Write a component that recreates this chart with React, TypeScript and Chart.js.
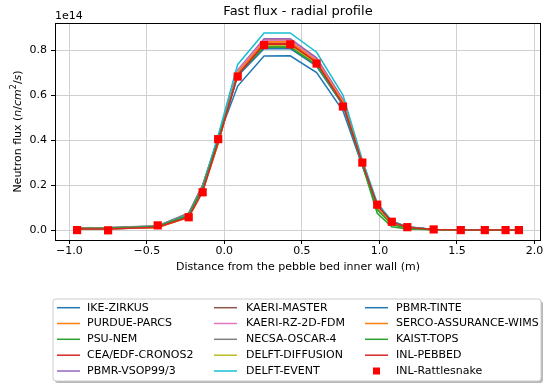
import React, { useEffect, useRef } from 'react';
import { Chart, registerables } from 'chart.js';

Chart.register(...registerables);

const FONT = '"DejaVu Sans", "Liberation Sans", sans-serif';

// Radial positions (m)
const xPositions = [-0.95, -0.75, -0.43, -0.23, -0.14, -0.04, 0.086, 0.256, 0.425, 0.595, 0.765, 0.89, 0.986, 1.08, 1.18, 1.35, 1.525, 1.68, 1.814, 1.9];

// Fast flux, units of 1e14 n/cm^2/s
const ikeZirkus = [0.004, 0.005, 0.013, 0.062, 0.19, 0.41, 0.64, 0.773, 0.774, 0.7, 0.53, 0.285, 0.11, 0.035, 0.012, 0.003, 0.001, 0, 0, 0];
const purdueParcs = [0.006, 0.006, 0.012, 0.058, 0.175, 0.385, 0.7, 0.838, 0.838, 0.752, 0.572, 0.3, 0.1, 0.03, 0.01, 0.002, 0, 0, 0, 0];
const psuNem = [0.007, 0.008, 0.015, 0.066, 0.185, 0.395, 0.69, 0.815, 0.815, 0.735, 0.56, 0.29, 0.075, 0.015, 0.005, 0.001, 0, 0, 0, 0];
const ceaCronos2 = [0.006, 0.007, 0.014, 0.063, 0.18, 0.39, 0.695, 0.83, 0.83, 0.748, 0.565, 0.295, 0.105, 0.033, 0.012, 0.002, 0, 0, 0, 0];
const pbmrVsop = [0.008, 0.009, 0.016, 0.07, 0.19, 0.4, 0.712, 0.85, 0.85, 0.765, 0.58, 0.3, 0.11, 0.036, 0.013, 0.003, 0.001, 0, 0, 0];
const kaeriMaster = [0.009, 0.01, 0.018, 0.074, 0.2, 0.41, 0.705, 0.845, 0.845, 0.76, 0.575, 0.298, 0.115, 0.038, 0.014, 0.003, 0.001, 0, 0, 0];
const kaeriRz2d = [0.008, 0.009, 0.016, 0.071, 0.195, 0.405, 0.708, 0.843, 0.843, 0.758, 0.574, 0.297, 0.112, 0.037, 0.013, 0.003, 0.001, 0, 0, 0];
const necsaOscar4 = [0.01, 0.011, 0.019, 0.076, 0.2, 0.41, 0.69, 0.812, 0.812, 0.735, 0.558, 0.292, 0.118, 0.04, 0.015, 0.003, 0.001, 0, 0, 0];
const delftDiffusion = [0.007, 0.008, 0.015, 0.065, 0.185, 0.4, 0.693, 0.82, 0.82, 0.74, 0.562, 0.294, 0.108, 0.035, 0.012, 0.002, 0, 0, 0, 0];
const delftEvent = [0.006, 0.007, 0.015, 0.068, 0.19, 0.42, 0.736, 0.876, 0.876, 0.79, 0.6, 0.312, 0.12, 0.04, 0.015, 0.003, 0.001, 0, 0, 0];
const pbmrTinte = [0.006, 0.007, 0.015, 0.064, 0.185, 0.398, 0.685, 0.806, 0.806, 0.728, 0.555, 0.29, 0.11, 0.036, 0.013, 0.003, 0.001, 0, 0, 0];
const sercoWims = [0.006, 0.006, 0.012, 0.057, 0.172, 0.385, 0.7, 0.836, 0.836, 0.75, 0.57, 0.298, 0.098, 0.03, 0.01, 0.002, 0, 0, 0, 0];
const kaistTops = [0.007, 0.008, 0.015, 0.066, 0.186, 0.398, 0.692, 0.812, 0.812, 0.733, 0.558, 0.291, 0.09, 0.025, 0.008, 0.001, 0, 0, 0, 0];
const inlPebbed = [0.005, 0.005, 0.013, 0.058, 0.17, 0.39, 0.688, 0.826, 0.826, 0.745, 0.56, 0.298, 0.112, 0.036, 0.013, 0.003, 0, 0, 0, 0];
const inlRattlesnake = [0.0, -0.001, 0.021, 0.057, 0.168, 0.404, 0.682, 0.822, 0.825, 0.74, 0.549, 0.3, 0.113, 0.037, 0.013, 0.003, 0.0, 0.0, 0.0, 0.0];

const lineSeries: [string, number[], string][] = [
  ['IKE-ZIRKUS', ikeZirkus, '#1f77b4'],
  ['PURDUE-PARCS', purdueParcs, '#ff7f0e'],
  ['PSU-NEM', psuNem, '#2ca02c'],
  ['CEA/EDF-CRONOS2', ceaCronos2, '#d62728'],
  ['PBMR-VSOP99/3', pbmrVsop, '#9467bd'],
  ['KAERI-MASTER', kaeriMaster, '#8c564b'],
  ['KAERI-RZ-2D-FDM', kaeriRz2d, '#e377c2'],
  ['NECSA-OSCAR-4', necsaOscar4, '#7f7f7f'],
  ['DELFT-DIFFUSION', delftDiffusion, '#bcbd22'],
  ['DELFT-EVENT', delftEvent, '#17becf'],
  ['PBMR-TINTE', pbmrTinte, '#1f77b4'],
  ['SERCO-ASSURANCE-WIMS', sercoWims, '#ff7f0e'],
  ['KAIST-TOPS', kaistTops, '#2ca02c'],
  ['INL-PEBBED', inlPebbed, '#d62728'],
];
const markerLabel = 'INL-Rattlesnake';

const xTicks = [-1.0, -0.5, 0.0, 0.5, 1.0, 1.5, 2.0];
const yTicks = [0.0, 0.2, 0.4, 0.6, 0.8];

const fmt = (v: number) => v.toFixed(1).replace('-', '\u2212');

const decorPlugin = {
  id: 'decor',
  afterDraw(chart: any) {
    const { ctx, chartArea } = chart;
    const { left, right, top, bottom } = chartArea;
    ctx.save();
    // frame
    ctx.strokeStyle = '#000';
    ctx.lineWidth = 1;
    ctx.strokeRect(Math.round(left) + 0.5, Math.round(top) + 0.5, Math.round(right - left) - 1, Math.round(bottom - top));
    ctx.fillStyle = '#000';
    // title
    ctx.font = `13px ${FONT}`;
    ctx.textAlign = 'center';
    ctx.textBaseline = 'middle';
    ctx.fillText('Fast flux - radial profile', (left + right) / 2, 12);
    // offset text
    ctx.font = `11px ${FONT}`;
    ctx.textAlign = 'left';
    ctx.textBaseline = 'alphabetic';
    ctx.fillText('1e14', left, 19);
    // x title
    ctx.textAlign = 'center';
    ctx.textBaseline = 'middle';
    ctx.fillText('Distance from the pebble bed inner wall (m)', (left + right) / 2, 267);
    // y title with math
    const parts: [string, string, number][] = [
      ['Neutron flux ', `11px ${FONT}`, 0],
      ['(', `11px ${FONT}`, 0],
      ['n', `italic 11px ${FONT}`, 0],
      ['/', `11px ${FONT}`, 0],
      ['cm', `italic 11px ${FONT}`, 0],
      ['2', `8px ${FONT}`, -4],
      ['/', `11px ${FONT}`, 0],
      ['s', `italic 11px ${FONT}`, 0],
      [')', `11px ${FONT}`, 0],
    ];
    let total = 0;
    const widths = parts.map(([t, f]) => { ctx.font = f; const w = ctx.measureText(t).width; total += w; return w; });
    ctx.translate(18, (top + bottom) / 2);
    ctx.rotate(-Math.PI / 2);
    ctx.textAlign = 'left';
    ctx.textBaseline = 'middle';
    let px = -total / 2;
    parts.forEach(([t, f, dy], i) => { ctx.font = f; ctx.fillText(t, px, dy); px += widths[i]; });
    ctx.restore();

    // legend
    ctx.save();
    const lx = 53, ly = 299, lw = 488, lh = 82, r = 3;
    const rr = (x: number, y: number) => {
      ctx.beginPath();
      ctx.moveTo(x + r, y);
      ctx.lineTo(x + lw - r, y);
      ctx.quadraticCurveTo(x + lw, y, x + lw, y + r);
      ctx.lineTo(x + lw, y + lh - r);
      ctx.quadraticCurveTo(x + lw, y + lh, x + lw - r, y + lh);
      ctx.lineTo(x + r, y + lh);
      ctx.quadraticCurveTo(x, y + lh, x, y + lh - r);
      ctx.lineTo(x, y + r);
      ctx.quadraticCurveTo(x, y, x + r, y);
      ctx.closePath();
    };
    rr(lx + 2, ly + 2);
    ctx.fillStyle = 'rgba(77,77,77,0.4)';
    ctx.fill();
    rr(lx, ly);
    ctx.fillStyle = '#fff';
    ctx.fill();
    ctx.strokeStyle = '#cccccc';
    ctx.lineWidth = 1;
    ctx.stroke();

    const cols = [{ h0: 57, h1: 80, t: 87 }, { h0: 214, h1: 237, t: 246 }, { h0: 365, h1: 388, t: 396 }];
    const rowY = [307.7, 323.5, 339.3, 355.2, 371];
    const items: { label: string; color: string; marker: boolean }[] = lineSeries.map(([l, , c]) => ({ label: l, color: c, marker: false }));
    items.push({ label: markerLabel, color: '#ff0000', marker: true });
    ctx.font = `11px ${FONT}`;
    ctx.textAlign = 'left';
    ctx.textBaseline = 'middle';
    items.forEach((it, i) => {
      const c = cols[Math.floor(i / 5)];
      const y = rowY[i % 5];
      if (it.marker) {
        ctx.fillStyle = it.color;
        const m = (c.h0 + c.h1) / 2;
        ctx.fillRect(m - 3.5, y - 3.5, 7, 7);
      } else {
        ctx.strokeStyle = it.color;
        ctx.lineWidth = 1.5;
        ctx.beginPath();
        ctx.moveTo(c.h0, y);
        ctx.lineTo(c.h1, y);
        ctx.stroke();
      }
      ctx.fillStyle = '#000';
      ctx.fillText(it.label, c.t, y);
    });
    ctx.restore();
  },
};

export default function App() {
  const ref = useRef<HTMLCanvasElement>(null);
  useEffect(() => {
    document.body.style.margin = '0';
    const n = lineSeries.length;
    const datasets: any[] = lineSeries.map(([label, vals, color], i) => ({
      label,
      data: xPositions.map((x, j) => ({ x, y: vals[j] })),
      borderColor: color,
      backgroundColor: color,
      borderWidth: 1.5,
      pointRadius: 0,
      pointHoverRadius: 0,
      fill: false,
      tension: 0,
      order: n + 1 - i,
    }));
    datasets.push({
      label: markerLabel,
      data: xPositions.map((x, j) => ({ x, y: inlRattlesnake[j] })),
      showLine: false,
      pointStyle: 'rect',
      pointRadius: 5.8,
      borderWidth: 0,
      backgroundColor: '#ff0000',
      borderColor: '#ff0000',
      order: 0,
    });
    const chart = new Chart(ref.current!, {
      type: 'line',
      data: { datasets },
      plugins: [decorPlugin],
      options: {
        animation: false,
        responsive: false,
        maintainAspectRatio: false,
        layout: { padding: { left: 0, top: 23, right: 7, bottom: 0 } },
        plugins: { legend: { display: false }, tooltip: { enabled: false }, title: { display: false } },
        scales: {
          x: {
            type: 'linear',
            min: -1.0925,
            max: 2.0425,
            afterBuildTicks: (s: any) => { s.ticks = xTicks.map((v) => ({ value: v })); },
            afterFit: (s: any) => { s.height = 145; },
            ticks: { callback: (v: any) => fmt(Number(v)), color: '#000', font: { family: FONT, size: 11 }, padding: 1, maxRotation: 0, autoSkip: false },
            grid: { color: '#d0d0d0', lineWidth: 1, tickColor: '#000', tickLength: 4, drawTicks: true },
            border: { display: false },
          },
          y: {
            type: 'linear',
            min: -0.044,
            max: 0.92,
            afterBuildTicks: (s: any) => { s.ticks = yTicks.map((v) => ({ value: v })); },
            afterFit: (s: any) => { s.width = 55; },
            ticks: { callback: (v: any) => fmt(Number(v)), color: '#000', font: { family: FONT, size: 11 }, padding: 4, autoSkip: false },
            grid: { color: '#d0d0d0', lineWidth: 1, tickColor: '#000', tickLength: 4, drawTicks: true },
            border: { display: false },
          },
        },
      } as any,
    });
    return () => chart.destroy();
  }, []);
  return (
    <div style={{ width: 548, height: 385, position: 'relative' }}>
      <canvas ref={ref} width={548} height={385} style={{ width: 548, height: 385, display: 'block' }} />
    </div>
  );
}
